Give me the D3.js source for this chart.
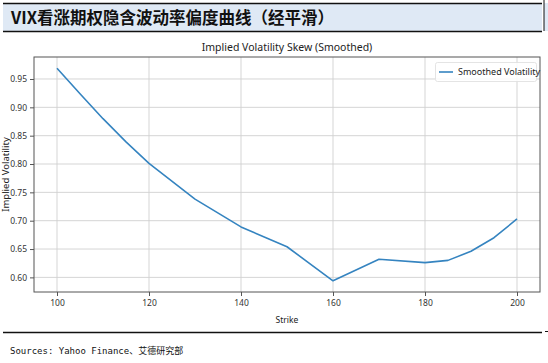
<!DOCTYPE html>
<html>
<head>
<meta charset="utf-8">
<script src="https://cdn.jsdelivr.net/npm/d3@7"></script>
<style>
  body { margin: 0; background: #fff; }
  svg { display: block; }
</style>
</head>
<body>
<div id="chart"></div>
<script>
// values
const strikes = [100, 105, 110, 115, 120, 130, 140, 150, 160, 170, 180, 185, 190, 195, 200]
const vols = [0.969, 0.924, 0.880, 0.839, 0.801, 0.738, 0.689, 0.654, 0.594, 0.632, 0.626, 0.630, 0.646, 0.670, 0.703]
const xTicks = [100, 120, 140, 160, 180, 200]
const yTicks = [0.60, 0.65, 0.70, 0.75, 0.80, 0.85, 0.90, 0.95]

const W = 548, H = 363
const plot = {left: 34, right: 540, top: 57, bottom: 292}
const font = "'Noto Sans', 'DejaVu Sans', sans-serif"

const svg = d3.select("#chart").append("svg")
  .attr("width", W).attr("height", H)

// header bar
svg.append("rect")
  .attr("x", 3).attr("y", 3).attr("width", 539).attr("height", 28)
  .attr("fill", "#dfe9f5")
svg.append("line").attr("x1", 3).attr("x2", 542).attr("y1", 3.5).attr("y2", 3.5)
  .attr("stroke", "#111").attr("stroke-width", 1.3)
svg.append("line").attr("x1", 3).attr("x2", 542).attr("y1", 31.5).attr("y2", 31.5)
  .attr("stroke", "#111").attr("stroke-width", 1.5)
// piece of the next panel at the right edge
svg.append("rect").attr("x", 544).attr("y", 3).attr("width", 4).attr("height", 28).attr("fill", "#dfe9f5")
svg.append("line").attr("x1", 544).attr("x2", 544).attr("y1", 0).attr("y2", 31)
  .attr("stroke", "#111").attr("stroke-width", 1)

svg.append("text")
  .attr("x", 11).attr("y", 24)
  .style("font-family", "'Noto Sans CJK SC', sans-serif")
  .style("font-weight", "bold")
  .style("font-size", "16.5px")
  .style("fill", "#111")
  .text("VIX看涨期权隐含波动率偏度曲线（经平滑）")

// scales (matplotlib-like 5% margins)
const x = d3.scaleLinear()
  .domain([95, 205])
  .range([plot.left, plot.right])

const y = d3.scaleLinear()
  .domain([0.5742, 0.9888])
  .range([plot.bottom, plot.top])

// grid
const grid = svg.append("g")
grid.selectAll(".vg").data(xTicks).enter().append("line")
  .attr("x1", d => x(d)).attr("x2", d => x(d))
  .attr("y1", plot.top).attr("y2", plot.bottom)
  .attr("stroke", "#d0d0d0").attr("stroke-width", 0.9)
grid.selectAll(".hg").data(yTicks).enter().append("line")
  .attr("x1", plot.left).attr("x2", plot.right)
  .attr("y1", d => y(d)).attr("y2", d => y(d))
  .attr("stroke", "#d0d0d0").attr("stroke-width", 0.9)

// axes
const xAxis = svg.append("g")
  .attr("transform", `translate(0,${plot.bottom})`)
  .call(d3.axisBottom(x).tickValues(xTicks).tickSize(4).tickPadding(4).tickFormat(d3.format("d")))
const yAxis = svg.append("g")
  .attr("transform", `translate(${plot.left},0)`)
  .call(d3.axisLeft(y).tickValues(yTicks).tickSize(4).tickPadding(3).tickFormat(d3.format(".2f")))

for (const ax of [xAxis, yAxis]) {
  ax.select(".domain").remove()
  ax.selectAll(".tick line").attr("stroke", "#555")
  ax.selectAll(".tick text")
    .style("font-family", font)
    .style("font-size", "8.5px")
    .style("fill", "#333")
}

// frame
svg.append("rect")
  .attr("x", plot.left).attr("y", plot.top)
  .attr("width", plot.right - plot.left).attr("height", plot.bottom - plot.top)
  .attr("fill", "none").attr("stroke", "#555").attr("stroke-width", 1)

// line
const line = d3.line()
  .x((d, i) => x(strikes[i]))
  .y(d => y(d))

svg.append("path")
  .datum(vols)
  .attr("d", line)
  .attr("fill", "none")
  .attr("stroke", "#3584c0")
  .attr("stroke-width", 1.6)
  .attr("stroke-linejoin", "round")

// titles
svg.append("text")
  .attr("x", (plot.left + plot.right) / 2).attr("y", 51)
  .attr("text-anchor", "middle")
  .style("font-family", font)
  .style("font-size", "10.5px")
  .style("fill", "#222")
  .text("Implied Volatility Skew (Smoothed)")

svg.append("text")
  .attr("x", (plot.left + plot.right) / 2).attr("y", 323)
  .attr("text-anchor", "middle")
  .style("font-family", font)
  .style("font-size", "8.5px")
  .style("fill", "#222")
  .text("Strike")

svg.append("text")
  .attr("transform", `translate(9,${(plot.top + plot.bottom) / 2}) rotate(-90)`)
  .attr("text-anchor", "middle")
  .style("font-family", font)
  .style("font-size", "9.5px")
  .style("fill", "#222")
  .text("Implied Volatility")

// legend
const lg = svg.append("g")
lg.append("rect")
  .attr("x", 435.5).attr("y", 62.5).attr("width", 101).attr("height", 19).attr("rx", 2)
  .attr("fill", "#fff").attr("fill-opacity", 0.85)
  .attr("stroke", "#ddd").attr("stroke-width", 0.8)
lg.append("line")
  .attr("x1", 439).attr("x2", 453).attr("y1", 72).attr("y2", 72)
  .attr("stroke", "#3584c0").attr("stroke-width", 1.6)
lg.append("text")
  .attr("x", 458).attr("y", 75)
  .style("font-family", font)
  .style("font-size", "9px")
  .style("fill", "#222")
  .text("Smoothed Volatility")

// bottom rule and source
svg.append("line").attr("x1", 3).attr("x2", 542).attr("y1", 332.5).attr("y2", 332.5)
  .attr("stroke", "#111").attr("stroke-width", 1.3)
svg.append("line").attr("x1", 545).attr("x2", 548).attr("y1", 331.5).attr("y2", 331.5)
  .attr("stroke", "#111").attr("stroke-width", 1)

svg.append("text")
  .attr("x", 10).attr("y", 354)
  .style("font-family", "'DejaVu Sans Mono', 'Noto Sans CJK SC', monospace")
  .style("font-size", "9px")
  .style("fill", "#111")
  .text("Sources: Yahoo Finance、艾德研究部")
</script>
</body>
</html>
